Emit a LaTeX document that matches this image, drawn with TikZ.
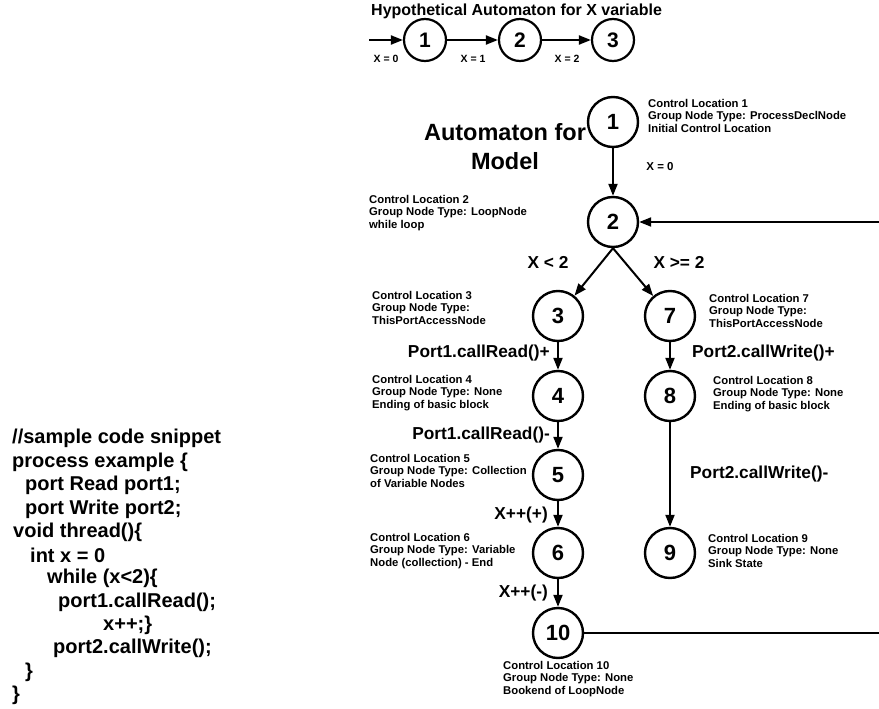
\documentclass[tikz,border=0pt]{standalone}
\usepackage{fontspec}
\setmainfont{Liberation Sans}
\usetikzlibrary{arrows.meta}
\tikzset{
  st/.style={circle,draw,line width=2.4pt,minimum size=50pt,inner sep=0pt,font=\bfseries\fontsize{22}{22}\selectfont},
  sst/.style={circle,draw,line width=2.2pt,minimum size=42pt,inner sep=0pt,font=\bfseries\fontsize{21}{21}\selectfont},
  info/.style={anchor=north west,inner sep=0pt,align=left,font=\bfseries\fontsize{11.3}{12.5}\selectfont},
  mlbl/.style={inner sep=0pt,font=\bfseries\fontsize{17.3}{18}\selectfont},
  slbl/.style={inner sep=0pt,font=\bfseries\fontsize{10.5}{12}\selectfont},
  code/.style={anchor=west,inner sep=0pt,font=\bfseries\fontsize{20}{23}\selectfont},
  edge/.style={line width=2pt,-{Triangle[length=12pt,width=9pt]}},
  plain/.style={line width=2pt}
}
\begin{document}
\begin{tikzpicture}[x=1pt,y=-1pt]
\useasboundingbox (0,0) rectangle (879,709);
% title
\node[anchor=west,inner sep=0pt,font=\bfseries\fontsize{16}{18}\selectfont] (title) at (371,11) {Hypothetical Automaton for X variable};
% top row
\node[sst] (a1) at (425,40) {1};
\node[sst] (a2) at (520,40) {2};
\node[sst] (a3) at (613,40) {3};
\coordinate (t0) at (369,40);
\draw[edge] (t0) -- (a1);
\draw[edge] (a1) -- (a2);
\draw[edge] (a2) -- (a3);
\node[slbl] (x0) at (386,59) {X = 0};
\node[slbl] (x1) at (473,59) {X = 1};
\node[slbl] (x2) at (567,59) {X = 2};
% main automaton
\node[align=center,inner sep=0pt,font=\bfseries\fontsize{23.5}{29}\selectfont] (head) at (505,147) {Automaton for\\Model};
\node[st] (n1) at (613,122) {1};
\node[st] (n2) at (613,222) {2};
\node[st] (n3) at (558,316) {3};
\node[st] (n7) at (670,316) {7};
\node[st] (n4) at (558,396) {4};
\node[st] (n8) at (670,396) {8};
\node[st] (n5) at (558,475) {5};
\node[st] (n6) at (558,553) {6};
\node[st] (n9) at (670,553) {9};
\node[st] (n10) at (558,633) {10};
\coordinate (r1) at (879,222);
\coordinate (r2) at (879,633);
% edges
\draw[edge] (n1) -- (n2);
\draw[edge] (r1) -- (n2);
\draw[edge] (n2.south) -- (n3);
\draw[edge] (n2.south) -- (n7);
\draw[edge] (n3) -- (n4);
\draw[edge] (n4) -- (n5);
\draw[edge] (n5) -- (n6);
\draw[edge] (n6) -- (n10);
\draw[edge] (n7) -- (n8);
\draw[edge] (n8) -- (n9);
\draw[plain] (n10) -- (r2);
% edge labels
\node[slbl,font=\bfseries\fontsize{11.5}{12}\selectfont] (e12) at (660,167) {X = 0};
\node[mlbl] (e23) at (548,262) {X < 2};
\node[mlbl] (e27) at (679,262) {X >= 2};
\node[mlbl,anchor=east] (e34) at (550,353) {Port1.callRead()+};
\node[mlbl,anchor=east] (e45) at (550,435) {Port1.callRead()-};
\node[mlbl,anchor=east] (e56) at (548,515) {X++(+)};
\node[mlbl,anchor=east] (e610) at (548,593) {X++(-)};
\node[mlbl,anchor=west] (e78) at (692,353) {Port2.callWrite()+};
\node[mlbl,anchor=west] (e89) at (690,474) {Port2.callWrite()-};
% info labels
\node[info] (l1) at (648,99) {Control Location 1\\Group Node Type: ProcessDeclNode\\Initial Control Location};
\node[info] (l2) at (369,195) {Control Location 2\\Group Node Type: LoopNode\\while loop};
\node[info] (l3) at (372,291) {Control Location 3\\Group Node Type:\\ThisPortAccessNode};
\node[info] (l7) at (709,294) {Control Location 7\\Group Node Type:\\ThisPortAccessNode};
\node[info] (l4) at (372,375) {Control Location 4\\Group Node Type: None\\Ending of basic block};
\node[info] (l8) at (713,376) {Control Location 8\\Group Node Type: None\\Ending of basic block};
\node[info] (l5) at (370,454) {Control Location 5\\Group Node Type: Collection\\of Variable Nodes};
\node[info] (l6) at (370,533) {Control Location 6\\Group Node Type: Variable\\Node (collection) - End};
\node[info] (l9) at (708,534) {Control Location 9\\Group Node Type: None\\Sink State};
\node[info] (l10) at (503,661) {Control Location 10\\Group Node Type: None\\Bookend of LoopNode};
% code
\node[code] (c1) at (12,438) {//sample code snippet};
\node[code] (c2) at (12,462) {process example \{};
\node[code] (c3) at (25,485) {port Read port1;};
\node[code] (c4) at (25,509) {port Write port2;};
\node[code] (c5) at (13,532) {void thread()\{};
\node[code] (c6) at (30,555) {int x = 0};
\node[code] (c7) at (47,578) {while (x<2)\{};
\node[code] (c8) at (58,602) {port1.callRead();};
\node[code] (c9) at (103,625) {x++;\}};
\node[code] (c10) at (53,648) {port2.callWrite();};
\node[code] (c11) at (25,672) {\}};
\node[code] (c12) at (12,695) {\}};
\end{tikzpicture}
\end{document}
